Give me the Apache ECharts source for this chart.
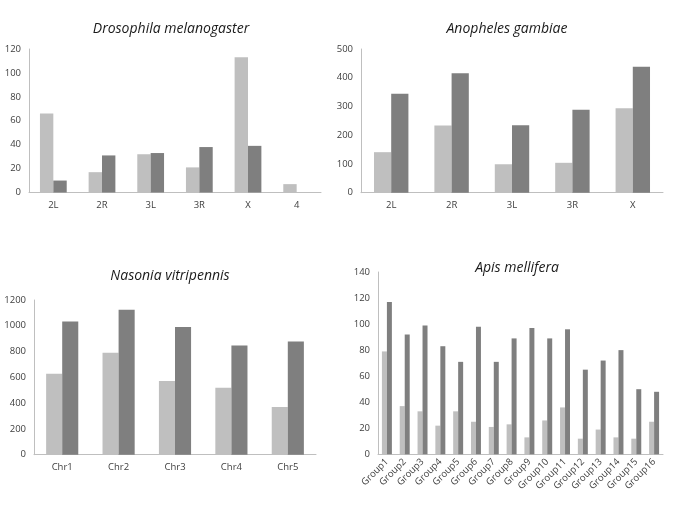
<!DOCTYPE html>
<html>
<head>
<meta charset="utf-8">
<script src="https://cdn.jsdelivr.net/npm/echarts@6/dist/echarts.min.js"></script>
<style>html,body{margin:0;padding:0;background:#fff}#c{width:685px;height:513px}</style>
</head>
<body>
<div id="c"></div>
<script>
// Drosophila melanogaster
const droCats = ['2L', '2R', '3L', '3R', 'X', '4'];
const droLight = [66, 17, 32, 21, 113, 7];
const droDark = [10, 31, 33, 38, 39, 0];
const droTicks = [0, 120, 20];

// Anopheles gambiae
const anoCats = ['2L', '2R', '3L', '3R', 'X'];
const anoLight = [141, 234, 99, 104, 294];
const anoDark = [344, 416, 235, 289, 438];
const anoTicks = [0, 500, 100];

// Nasonia vitripennis
const nasCats = ['Chr1', 'Chr2', 'Chr3', 'Chr4', 'Chr5'];
const nasLight = [628, 791, 571, 520, 370];
const nasDark = [1034, 1125, 990, 848, 879];
const nasTicks = [0, 1200, 200];

// Apis mellifera
const apiCats = ['Group1','Group2','Group3','Group4','Group5','Group6','Group7','Group8',
  'Group9','Group10','Group11','Group12','Group13','Group14','Group15','Group16'];
const apiLight = [79, 37, 33, 22, 33, 25, 21, 23, 13, 26, 36, 12, 19, 13, 12, 25];
const apiDark = [117, 92, 99, 83, 71, 98, 71, 89, 97, 89, 96, 65, 72, 80, 50, 48];
const apiTicks = [0, 140, 20];

const titles = ['Drosophila melanogaster', 'Anopheles gambiae', 'Nasonia vitripennis', 'Apis mellifera'];

const FONT = 'Open Sans';
const LIGHT = '#bfbfbf', DARK = '#7f7f7f', AXIS = '#bfbfbf', LABEL = '#404040';

const grids = [
  {left: 29, top: 49, width: 292, height: 143.5},
  {left: 361, top: 49, width: 302, height: 143.7},
  {left: 34, top: 300, width: 282, height: 154.7},
  {left: 378, top: 272, width: 285, height: 182.3}
];
const titlePos = [[166, 17], [502, 17], [165, 264], [512, 256]];
const cats = [droCats, anoCats, nasCats, apiCats];
const lights = [droLight, anoLight, nasLight, apiLight];
const darks = [droDark, anoDark, nasDark, apiDark];
const ticks = [droTicks, anoTicks, nasTicks, apiTicks];
const gaps = ['45%', '43%', '43%', '44%'];

const option = {
  animation: false,
  backgroundColor: '#fff',
  title: titles.map((t, i) => ({
    text: t, left: titlePos[i][0], top: titlePos[i][1], textAlign: 'center',
    textStyle: {fontFamily: FONT, fontStyle: 'italic', fontWeight: 'normal', fontSize: 14, color: '#1a1a1a'}
  })),
  grid: grids,
  xAxis: cats.map((c, i) => ({
    type: 'category', gridIndex: i, data: c,
    axisLine: {lineStyle: {color: AXIS, width: 1}},
    axisTick: {show: false},
    axisLabel: {
      fontFamily: FONT, fontSize: 9.5, color: LABEL, interval: 0,
      margin: i === 3 ? 6 : 8, rotate: i === 3 ? 45 : 0
    }
  })),
  yAxis: ticks.map((t, i) => ({
    type: 'value', gridIndex: i, min: t[0], max: t[1], interval: t[2],
    axisLine: {show: true, lineStyle: {color: AXIS, width: 1}},
    axisTick: {show: false},
    splitLine: {show: false},
    axisLabel: {fontFamily: FONT, fontSize: 9.5, color: LABEL, margin: 8, formatter: v => String(v)}
  })),
  series: []
};
for (let i = 0; i < 4; i++) {
  option.series.push({
    type: 'bar', xAxisIndex: i, yAxisIndex: i, data: lights[i],
    itemStyle: {color: LIGHT}, barGap: '0%', barCategoryGap: gaps[i]
  });
  option.series.push({
    type: 'bar', xAxisIndex: i, yAxisIndex: i, data: darks[i],
    itemStyle: {color: DARK}, barGap: '0%', barCategoryGap: gaps[i]
  });
}
const chart = echarts.init(document.getElementById('c'), null, {renderer: 'canvas'});
chart.setOption(option);
</script>
</body>
</html>
